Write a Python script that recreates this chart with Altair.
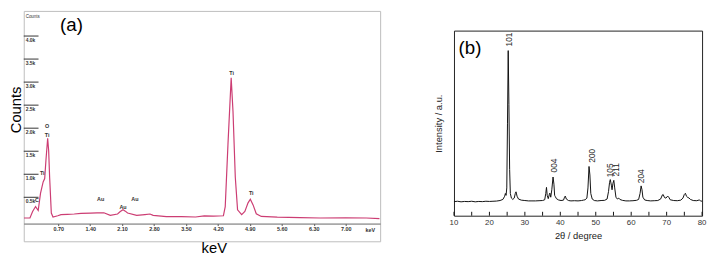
import altair as alt
import pandas as pd

# ---------------- panel (a): EDS spectrum ----------------
eds_kev = [-0.05, 0.08, 0.138, 0.203, 0.261, 0.311, 0.369, 0.403, 0.43, 0.468, 0.49, 0.511, 0.548, 0.585,
           0.69, 0.76, 0.9, 1.05, 1.2, 1.41, 1.55, 1.70, 1.84, 2.0, 2.06, 2.12, 2.17, 2.22, 2.42, 2.6, 2.71,
           2.78, 3.07, 3.4, 3.71, 3.9, 4.1, 4.32, 4.36, 4.42, 4.49, 4.53, 4.58, 4.63, 4.72, 4.79, 4.86, 4.91,
           4.97, 5.04, 5.15, 5.5, 6.0, 6.44, 7.0, 7.45, 7.74]
eds_counts = [51, 51, 192, 299, 214, 585, 833, 906, 1297, 1782, 1510, 940, 158, 73,
              100, 122, 130, 137, 150, 158, 162, 165, 107, 137, 190, 229, 200, 158, 107, 125, 137,
              107, 79, 80, 73, 95, 90, 100, 299, 1654, 3092, 2365, 940, 229, 122, 192, 380, 457,
              335, 143, 85, 70, 60, 51, 55, 51, 36]

eds_ytick_vals = [500, 1000, 1500, 2000, 2500, 3000, 3500, 4000]
eds_ytick_labels = ["0.5k", "1.0k", "1.5k", "2.0k", "2.5k", "3.0k", "3.5k", "4.0k"]
eds_xtick_vals = [0.7, 1.4, 2.1, 2.8, 3.5, 4.2, 4.9, 5.6, 6.3, 7.0]

eds_peak_text = ["C", "Ti", "O", "Ti", "Au", "Au", "Au", "Ti", "Ti"]
eds_peak_kev = [0.235, 0.35, 0.455, 0.455, 1.63, 2.12, 2.38, 4.50, 4.93]
eds_peak_counts = [442, 1026, 2045, 1848, 459, 299, 459, 3199, 585]

# ---------------- panel (b): XRD pattern ----------------
xrd_2theta = [10, 11, 12, 13, 14, 15, 16, 17, 18, 19, 20, 21, 22, 23, 23.8, 24.3, 24.5, 24.7, 24.9, 25.1,
              25.3, 25.5, 25.7, 25.9, 26.2, 26.6, 27.0, 27.3, 27.5, 27.8, 28.2, 29, 30, 31, 32, 33, 34, 35,
              35.6, 35.9, 36.1, 36.3, 36.6, 36.9, 37.05, 37.3, 37.6, 37.95, 38.2, 38.4, 38.6, 38.9, 39.5,
              40.2, 40.9, 41.2, 41.4, 41.7, 42.3, 43, 44, 45, 46, 46.5, 47, 47.5, 47.8, 48.1, 48.35, 48.6,
              49, 49.6, 50.5, 51.5, 52.5, 53.2, 53.6, 53.9, 54.1, 54.4, 54.6, 54.85, 55.1, 55.35, 55.7,
              56.1, 56.5, 56.8, 57.5, 58.5, 59.5, 60.5, 61.5, 62.1, 62.5, 62.8, 63.05, 63.3, 63.8, 64.5,
              65.5, 66.5, 67.5, 68.3, 68.8, 69.0, 69.4, 69.8, 70.3, 70.6, 71, 72, 73, 74, 74.6, 75.0, 75.3,
              75.6, 76.0, 76.3, 76.7, 77.5, 78.5, 79.2, 79.6, 80]
xrd_intensity = [76, 78, 75, 77, 76, 78, 75, 77, 76, 78, 77, 78, 79, 82, 88, 105, 120, 110, 150, 500,
                 892, 600, 250, 120, 95, 88, 95, 120, 129, 105, 90, 84, 82, 80, 80, 80, 81, 82,
                 86, 120, 153, 110, 92, 115, 122, 100, 140, 209, 170, 110, 103, 92, 85,
                 82, 84, 100, 106, 90, 82, 80, 81, 80, 82, 84, 86, 95, 150, 266, 220, 120,
                 90, 82, 80, 82, 83, 90, 130, 180, 195, 165, 140, 175, 191, 150, 100,
                 90, 95, 88, 83, 80, 80, 81, 83, 88, 120, 161, 140, 100, 85, 82,
                 80, 81, 82, 90, 112, 115, 98, 95, 106, 100, 86, 82, 81, 84, 95, 115, 121,
                 105, 98, 96, 88, 82, 81, 85, 80, 78]

xrd_peak_text = ["101", "004", "200", "105", "211", "204"]
xrd_peak_2theta = [25.56, 38.33, 48.9, 54.05, 55.85, 62.9]
xrd_peak_int = [952, 271, 324, 245, 248, 213]
xrd_major_ticks = [10, 20, 30, 40, 50, 60, 70, 80]
xrd_major_labels = ["10", "20", "30", "40", "50", "60", "70", "80"]
xrd_minor_ticks = [15, 25, 35, 45, 55, 65, 75]
xrd_tick_len = 21  # in a.u. (about 4 px)

PINK = "#cc3d73"
TINY = dict(font="Liberation Sans", fontSize=5.5, fontWeight="bold", color="#333333")

# ---------- build panel (a) ----------
xa = alt.Scale(domain=[-0.056, 7.755], nice=False, zero=False)
ya = alt.Scale(domain=[-455, 4545], nice=False, zero=False)

df_eds = pd.DataFrame({"x": eds_kev, "y": eds_counts})
line_a = alt.Chart(df_eds).mark_line(color=PINK, strokeWidth=1.2).encode(
    x=alt.X("x:Q", scale=xa, axis=alt.Axis(
        title="keV", values=eds_xtick_vals, format=".2f", grid=False, offset=-18,
        labelFont="Liberation Sans", labelFontSize=5.5, labelFontWeight="bold", labelColor="#333333",
        labelPadding=1, tickSize=2, tickColor="#555555", domainColor="#666666",
        titleFont="Liberation Sans", titleFontSize=15, titleFontWeight="normal", titleColor="#000000",
        titlePadding=9, titleX=193)),
    y=alt.Y("y:Q", scale=ya, axis=alt.Axis(
        title="Counts", grid=False, ticks=False, labels=False, domain=False,
        titleFont="Liberation Sans", titleFontSize=15, titleFontWeight="normal", titleColor="#000000",
        titlePadding=0, titleY=100)),
)

df_yt = pd.DataFrame({"y": eds_ytick_vals, "lab": eds_ytick_labels})
ticks_a = alt.Chart(df_yt).mark_rule(color="#333333", strokeWidth=1).encode(
    x=alt.value(0), x2=alt.value(15), y="y:Q")
ticklab_a = alt.Chart(df_yt).mark_text(align="left", baseline="top", dx=2, dy=2,
                                       font="Liberation Sans", fontSize=5, fontWeight="bold",
                                       color="#333333").encode(
    x=alt.value(0), y="y:Q", text="lab:N")

df_pk = pd.DataFrame({"x": eds_peak_kev, "y": eds_peak_counts, "t": eds_peak_text})
peaks_a = alt.Chart(df_pk).mark_text(align="center", baseline="middle", **TINY).encode(
    x="x:Q", y="y:Q", text="t:N")

title_a = alt.Chart(pd.DataFrame({"x": [0.99], "y": [4246], "t": ["(a)"]})).mark_text(
    font="Liberation Sans", fontSize=19, color="#000000").encode(x="x:Q", y="y:Q", text="t:N")
kev_lab = alt.Chart(pd.DataFrame({"x": [7.54], "t": ["keV"]})).mark_text(baseline="top", **TINY).encode(
    x="x:Q", y=alt.value(221), text="t:N")
counts_small = alt.Chart(pd.DataFrame({"t": ["Counts"]})).mark_text(
    align="left", baseline="middle", font="Liberation Sans", fontSize=4.5, color="#333333").encode(
    x=alt.value(2), y=alt.value(6), text="t:N")

panel_a = alt.layer(line_a, ticks_a, ticklab_a, peaks_a, title_a, kev_lab, counts_small).properties(
    width=362, height=234, view=alt.ViewBackground(stroke="#bdbdbd", strokeWidth=1))

# ---------- build panel (b) ----------
xb = alt.Scale(domain=[10, 80], nice=False, zero=False)
yb = alt.Scale(domain=[0, 1000], nice=False, zero=False)

df_xrd = pd.DataFrame({"x": xrd_2theta, "y": xrd_intensity})
line_b = alt.Chart(df_xrd).mark_line(color="#111111", strokeWidth=1).encode(
    x=alt.X("x:Q", scale=xb, axis=alt.Axis(
        title="2θ / degree", grid=False, domain=False, ticks=False, labels=False,
        titleFont="Liberation Sans", titleFontSize=9.5, titleFontWeight="normal", titleColor="#222222",
        titlePadding=15)),
    y=alt.Y("y:Q", scale=yb, axis=alt.Axis(
        title="Intensity / a.u.", grid=False, ticks=False, labels=False, domain=False,
        titleFont="Liberation Sans", titleFontSize=9.5, titleFontWeight="normal", titleColor="#222222",
        titlePadding=11)),
)
all_ticks = xrd_major_ticks + xrd_minor_ticks
df_ticks_b = pd.DataFrame({"x": all_ticks, "y": [0] * len(all_ticks),
                           "y2": [xrd_tick_len] * len(all_ticks)})
ticks_b = alt.Chart(df_ticks_b).mark_rule(color="#111111", strokeWidth=1).encode(
    x="x:Q", y="y:Q", y2="y2:Q")
df_lab_b = pd.DataFrame({"x": xrd_major_ticks, "t": xrd_major_labels})
ticklab_b = alt.Chart(df_lab_b).mark_text(baseline="top", font="Liberation Sans", fontSize=8,
                                          color="#333333").encode(
    x="x:Q", y=alt.value(191), text="t:N")
df_pkb = pd.DataFrame({"x": xrd_peak_2theta, "y": xrd_peak_int, "t": xrd_peak_text})
peaks_b = alt.Chart(df_pkb).mark_text(angle=270, align="center", baseline="middle",
                                      font="Liberation Sans", fontSize=8.5, color="#222222").encode(
    x="x:Q", y="y:Q", text="t:N")
title_b = alt.Chart(pd.DataFrame({"x": [14.5], "y": [904], "t": ["(b)"]})).mark_text(
    font="Liberation Sans", fontSize=19, color="#000000").encode(x="x:Q", y="y:Q", text="t:N")

panel_b = alt.layer(line_b, ticks_b, ticklab_b, peaks_b, title_b).properties(
    width=252, height=188, view=alt.ViewBackground(stroke="#222222", strokeWidth=1))

spacer = alt.Chart(pd.DataFrame({"t": [""]})).mark_text(fontSize=4).encode(
    x=alt.value(10), y=alt.value(10), text="t:N").properties(
    width=252, height=20, view=alt.ViewBackground(stroke="transparent"))

right = alt.vconcat(spacer, panel_b, spacing=0, bounds="flush")

chart = alt.hconcat(panel_a, right, spacing=75, bounds="flush").properties(
    padding=0, background="white")

chart.save("out.html", embed_options={"renderer": "svg", "actions": False})
